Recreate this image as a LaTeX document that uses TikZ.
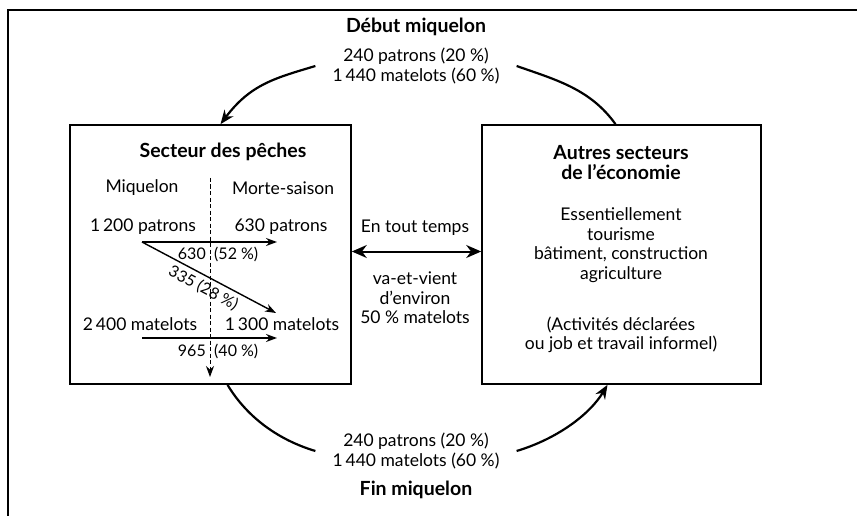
\documentclass[tikz,border=0pt]{standalone}
\usepackage{fontspec}
\setmainfont{Lato}
\usetikzlibrary{arrows.meta}

\begin{document}
\begin{tikzpicture}[x=1pt,y=-1pt,>={Stealth[length=14pt,width=11pt]},
  every node/.style={font=\fontsize{17.5}{19.5}\selectfont,align=center,inner sep=0pt},
  secteur/.style={draw,line width=1.6pt,minimum height=259pt},
  titre/.style={font=\fontsize{19.5}{20}\selectfont\bfseries},
  petit/.style={font=\fontsize{16}{18}\selectfont},
  flux txt/.style={inner xsep=17pt},
  arc/.style={line width=2.2pt},
  pas/.style={line width=1.4pt,>={Stealth[length=11pt,width=8pt]}},
  cadre/.style={line width=1.4pt}]
  \useasboundingbox (0,0) rectangle (857,516);
  \draw[cadre] (8,516) -- (8,10) -- (857,10);

  % les deux secteurs
  \node[secteur,minimum width=281pt] (peche) at (210.5,254.5) {};
  \node[secteur,minimum width=279pt] (autres) at (621.5,254.5) {};

  % secteur des peches
  \node[titre] (tpeche) at (223,152) {Secteur des pêches};
  \node (miq) at (142,188) {Miquelon};
  \node (morte) at (283,188) {Morte-saison};
  \node (pat1) at (143,227) {1\,200 patrons};
  \node (pat2) at (281,227) {630 patrons};
  \node (mat1) at (140,324) {2\,400 matelots};
  \node (mat2) at (282,324) {1\,300 matelots};
  \coordinate (d0) at (142,242);
  \coordinate (d1) at (277,242);
  \coordinate (d2) at (276,313);
  \coordinate (d3) at (142,338);
  \coordinate (d4) at (277,338);
  \coordinate (t0) at (210,178);
  \coordinate (t1) at (210,377);
  \node[petit,anchor=east] (n630) at (206,254) {630};
  \node[petit,anchor=west] (p52) at (214,254) {(52~\%)};
  \node[petit,anchor=east] (n965) at (206,351) {965};
  \node[petit,anchor=west] (p40) at (214,351) {(40~\%)};
  \draw[pas,->] (d0) -- (d1);
  \draw[pas,->] (d0) -- node[petit,sloped,below=4pt] {335 (28~\%)} (d2);
  \draw[pas,->] (d3) -- (d4);
  \draw[line width=0.9pt,dash pattern=on 4pt off 2.5pt,->,>={Stealth[length=11pt,width=8pt]}] (t0) -- (t1);

  % entre les deux
  \node (toujours) at (415,228) {En tout temps};
  \draw[line width=2pt,<->,>={Stealth[length=15pt,width=13pt]}] ([yshift=3pt]peche.east) -- ([yshift=3pt]autres.west);
  \node (vaet) at (415,298) {va-et-vient\\d'environ\\50~\% matelots};

  % autres secteurs
  \node[titre] (tautres) at (621,163) {Autres secteurs\\de l'économie};
  \node (essen) at (621,245) {Essentiellement\\tourisme\\bâtiment, construction\\agriculture};
  \node (activ) at (621,335) {(Activités déclarées\\ou job et travail informel)};

  % debut et fin
  \node[titre] (debut) at (416,27) {Début miquelon};
  \node[flux txt] (haut) at (416,66) {240 patrons (20~\%)\\1\,440 matelots (60~\%)};
  \node[flux txt] (bas) at (416,451) {240 patrons (20~\%)\\1\,440 matelots (60~\%)};
  \node[titre] (fin) at (416,490) {Fin miquelon};

  \draw[arc,->] (haut.west) .. controls +(-40,12) and +(30,-40) .. ([xshift=10pt]peche.north);
  \draw[arc] ([xshift=-6pt]autres.north) .. controls +(-25,-35) and +(40,14) .. (haut.east);
  \draw[arc] ([xshift=17pt]peche.south) .. controls +(18,30) and +(-40,-12) .. (bas.west);
  \draw[arc,->] (bas.east) .. controls +(40,-12) and +(-18,30) .. ([xshift=-14pt]autres.south);
\end{tikzpicture}
\end{document}
